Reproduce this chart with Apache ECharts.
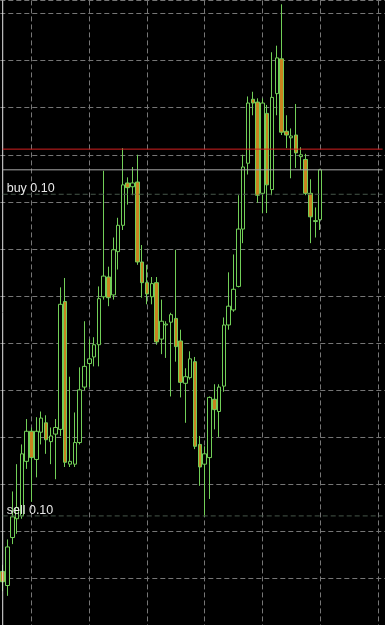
<!DOCTYPE html>
<html>
<head>
<meta charset="utf-8">
<script src="https://cdn.jsdelivr.net/npm/echarts/dist/echarts.min.js"></script>
<style>
html,body{margin:0;padding:0;background:#000;}
#chart{width:385px;height:625px;}
</style>
</head>
<body>
<div id="chart"></div>
<script>
// ---- data (prices) ----
const openPrices = [1.08007,1.07992,1.08043,1.08063,1.08066,1.08124,1.08156,1.08126,1.08155,1.08165,
  1.08145,1.08153,1.08158,1.08294,1.08121,1.08121,1.08144,1.08203,1.08228,1.08235,
  1.08248,1.08299,1.08320,1.08301,1.08347,1.08375,1.08420,1.08416,1.08421,1.08336,
  1.08314,1.08299,1.08314,1.08254,1.08269,1.08272,1.08276,1.08252,1.08207,1.08213,
  1.08230,1.08142,1.08121,1.08128,1.08190,1.08177,1.08204,1.08269,1.08285,1.08310,
  1.08371,1.08441,1.08509,1.08506,1.08409,1.08494,1.08413,1.08515,1.08552,1.08475,
  1.08468,1.08471,1.08448,1.08445,1.08409,1.08379,1.08381];
const closePrices = [1.07996,1.08033,1.08065,1.08075,1.08132,1.08156,1.08128,1.08156,1.08170,1.08147,
  1.08151,1.08160,1.08291,1.08123,1.08124,1.08144,1.08200,1.08225,1.08233,1.08248,
  1.08297,1.08321,1.08298,1.08349,1.08375,1.08418,1.08415,1.08420,1.08336,1.08314,
  1.08302,1.08313,1.08251,1.08273,1.08270,1.08280,1.08246,1.08208,1.08214,1.08233,
  1.08140,1.08118,1.08132,1.08192,1.08179,1.08203,1.08269,1.08289,1.08307,1.08371,
  1.08437,1.08505,1.08505,1.08407,1.08505,1.08418,1.08511,1.08553,1.08474,1.08471,
  1.08470,1.08452,1.08450,1.08409,1.08384,1.08380,1.08434];
const highPrices = [1.08014,1.08041,1.08092,1.08121,1.08142,1.08169,1.08160,1.08171,1.08177,1.08173,
  1.08160,1.08169,1.08309,1.08319,1.08214,1.08176,1.08224,1.08273,1.08254,1.08256,
  1.08310,1.08433,1.08331,1.08362,1.08383,1.08457,1.08426,1.08437,1.08450,1.08354,
  1.08333,1.08320,1.08320,1.08296,1.08273,1.08282,1.08349,1.08264,1.08223,1.08241,
  1.08235,1.08151,1.08140,1.08193,1.08206,1.08206,1.08277,1.08325,1.08344,1.08407,
  1.08450,1.08512,1.08517,1.08510,1.08510,1.08503,1.08559,1.08566,1.08610,1.08492,
  1.08478,1.08504,1.08458,1.08451,1.08424,1.08394,1.08435];
const lowPrices = [1.07986,1.07981,1.08036,1.08047,1.08063,1.08116,1.08081,1.08107,1.08142,1.08132,
  1.08121,1.08105,1.08151,1.08118,1.08118,1.08118,1.08142,1.08200,1.08203,1.08225,
  1.08225,1.08296,1.08289,1.08296,1.08328,1.08370,1.08397,1.08407,1.08333,1.08298,
  1.08291,1.08291,1.08248,1.08238,1.08234,1.08193,1.08230,1.08192,1.08165,1.08211,
  1.08137,1.08098,1.08065,1.08084,1.08158,1.08150,1.08198,1.08264,1.08283,1.08309,
  1.08356,1.08429,1.08492,1.08399,1.08388,1.08388,1.08407,1.08492,1.08471,1.08457,
  1.08425,1.08436,1.08434,1.08407,1.08356,1.08362,1.08370];

const askPrice = 1.08456;
const orderLabels = ['buy 0.10', 'sell 0.10'];
const orderPrices = [1.08408, 1.08066];

// axis settings
const yMin = 1.0795, yMax = 1.0861413, yStep = 0.0005;
const slotCount = 80;          // bars + empty right shift
const gridEvery = 12, gridOffset = 6;

// category labels (bar times, not shown)
const categories = [];
for (let i = 0; i < slotCount; i++) {
  const m = 8 * 60 + i * 5;
  categories.push(String(Math.floor(m / 60) % 24).padStart(2, '0') + ':' + String(m % 60).padStart(2, '0'));
}

const candles = openPrices.map((o, i) => [o, closePrices[i], lowPrices[i], highPrices[i]]);
const bidPrice = closePrices[closePrices.length - 1];

const green = '#72cf58';
const dash = [5, 3];
const firstCat = categories[0];
const lastCat = categories[slotCount - 1];

// each reference line is a two-point line series
function refLine(p0, p1, color, type, text) {
  const first = { value: p0 };
  if (text) {
    first.label = {
      show: true, formatter: text, position: [4, 1], align: 'left', verticalAlign: 'bottom',
      color: '#e8e8e8', opacity: 1, fontSize: 12.5, fontFamily: 'Liberation Sans, Arial, sans-serif'
    };
  }
  return {
    type: 'line',
    data: [first, { value: p1 }],
    silent: true,
    animation: false,
    symbol: 'circle',
    symbolSize: 0,
    showSymbol: true,
    z: 3,
    label: { show: false },
    itemStyle: { color: color },
    lineStyle: { color: color, type: type, width: 1, opacity: 1 },
    emphasis: { disabled: true }
  };
}

const helperSeries = [
  refLine([firstCat, yMin], [firstCat, yMax], '#e6e6e6', 'solid'),
  refLine([firstCat, askPrice], [lastCat, askPrice], '#d42020', 'solid'),
  refLine([firstCat, bidPrice], [lastCat, bidPrice], '#a9a9a9', 'solid')
];
orderLabels.forEach((t, k) => {
  helperSeries.push(refLine([firstCat, orderPrices[k]], [lastCat, orderPrices[k]], '#46564a', dash, t));
});

const chart = echarts.init(document.getElementById('chart'), null, { renderer: 'canvas' });
chart.setOption({
  animation: false,
  backgroundColor: '#000000',
  tooltip: { show: false },
  grid: { left: 0.3, top: 0.41, width: 386.4, height: 626.14 },
  xAxis: {
    type: 'category',
    data: categories,
    boundaryGap: true,
    axisLine: { show: false },
    axisTick: { show: false },
    axisLabel: { show: false },
    splitLine: {
      show: true,
      alignWithLabel: true,
      interval: (i) => i % gridEvery === gridOffset,
      lineStyle: { color: '#767676', type: dash, width: 1 }
    }
  },
  yAxis: {
    type: 'value',
    min: yMin,
    max: yMax,
    interval: yStep,
    axisLine: { show: false },
    axisTick: { show: false },
    axisLabel: { show: false },
    splitLine: { show: true, lineStyle: { color: '#767676', type: dash, width: 1 } }
  },
  series: [{
    type: 'candlestick',
    data: candles,
    barWidth: 4,
    itemStyle: {
      color: '#000000',
      color0: '#c8841e',
      borderColor: green,
      borderColor0: green,
      borderWidth: 1
    }
  }].concat(helperSeries)
});
</script>
</body>
</html>
